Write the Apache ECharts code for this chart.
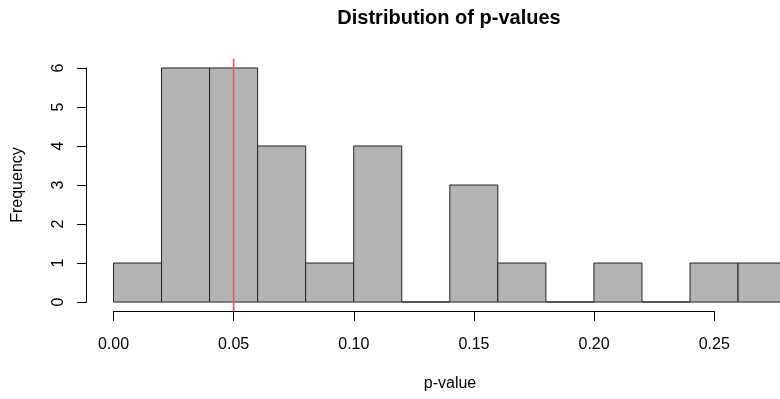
<!DOCTYPE html>
<html>
<head>
<meta charset="utf-8">
<script src="https://cdn.jsdelivr.net/npm/echarts@6/dist/echarts.min.js"></script>
<style>html,body{margin:0;padding:0;background:#fff;overflow:hidden}#c{width:780px;height:399px}</style>
</head>
<body>
<div id="c"></div>
<script>
const binEdges = [0.00,0.02,0.04,0.06,0.08,0.10,0.12,0.14,0.16,0.18,0.20,0.22,0.24,0.26,0.28];
const counts = [1,6,6,4,1,4,0,3,1,0,1,0,1,1];
const xTicks = [0.00,0.05,0.10,0.15,0.20,0.25];
const yTicks = [0,1,2,3,4,5,6];
const refLine = 0.05;

const histData = counts.map((c,i)=>[binEdges[i], binEdges[i+1], c]);
const xMin = binEdges[0], xMax = binEdges[binEdges.length-1];
const xPad = (xMax-xMin)*0.04;
const yMax = Math.max(...counts);
const yPad = yMax*0.04;

const chart = echarts.init(document.getElementById('c'), null, {renderer:'canvas'});
const font = 'Liberation Sans, Arial, sans-serif';
chart.setOption({
  animation:false,
  grid:[
    {left:86.6, top:58.6, width:726.4, height:252.8, outerBoundsMode:'none', containLabel:false},
    {left:113.5, top:68, width:600.75, height:234, outerBoundsMode:'none', containLabel:false}
  ],
  xAxis:[
    {gridIndex:0, type:'value', min:xMin-xPad, max:xMax+xPad, show:false},
    {gridIndex:1, type:'value', min:xTicks[0], max:xTicks[xTicks.length-1], interval:0.05,
      position:'bottom', offset:9.4,
      axisLine:{show:true, onZero:false, lineStyle:{color:'#000', width:1}},
      axisTick:{show:true, length:9.5, lineStyle:{color:'#000'}},
      splitLine:{show:false},
      axisLabel:{margin:25, fontFamily:font, fontSize:16, color:'#000',
        formatter:v=>v.toFixed(2)}}
  ],
  yAxis:[
    {gridIndex:0, type:'value', min:-yPad, max:yMax+yPad, show:false},
    {gridIndex:1, type:'value', min:yTicks[0], max:yTicks[yTicks.length-1], interval:1,
      position:'left', offset:26.9,
      axisLine:{show:true, onZero:false, lineStyle:{color:'#000', width:1}},
      axisTick:{show:true, length:9.5, lineStyle:{color:'#000'}},
      splitLine:{show:false},
      axisLabel:{margin:20, rotate:90, fontFamily:font, fontSize:16, color:'#000'}}
  ],
  graphic:[
    {type:'text', x:449, y:18, style:{text:'Distribution of p-values', textAlign:'center', textVerticalAlign:'middle', font:'bold 20px '+font, fill:'#000'}},
    {type:'text', x:450, y:384, style:{text:'p-value', textAlign:'center', textVerticalAlign:'middle', font:'16px '+font, fill:'#000'}},
    {type:'text', x:18, y:185, rotation:Math.PI/2, style:{text:'Frequency', textAlign:'center', textVerticalAlign:'middle', font:'16px '+font, fill:'#000'}}
  ],
  series:[
    {type:'custom', xAxisIndex:0, yAxisIndex:0, data:histData, clip:false,
      renderItem:function(params, api){
        const p0 = api.coord([api.value(0), 0]);
        const p1 = api.coord([api.value(1), api.value(2)]);
        return {type:'rect', shape:{x:p0[0], y:p1[1], width:p1[0]-p0[0], height:p0[1]-p1[1]},
          style:{fill:'#b3b5b5', stroke:'#222', lineWidth:1}};
      }},
    {type:'line', xAxisIndex:0, yAxisIndex:0, data:[[refLine,-yPad],[refLine,yMax+yPad]], z:5,
      symbol:'none', lineStyle:{color:'#ee5560', width:1.6}, silent:true}
  ]
});
</script>
</body>
</html>
